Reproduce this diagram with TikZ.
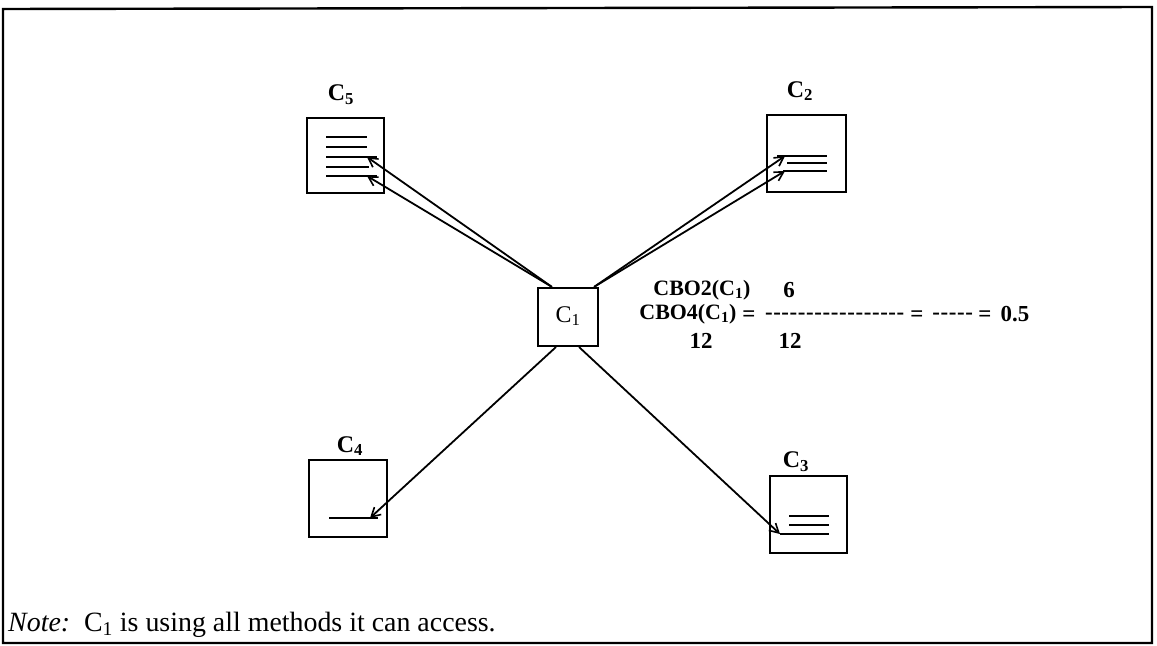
\documentclass[tikz,border=0pt]{standalone}
\usepackage{fontspec}
\setmainfont{Liberation Serif}
\usetikzlibrary{arrows.meta}
\newcommand\hy{-\kern0.6bp\relax}
\begin{document}
\begin{tikzpicture}[x=1bp,y=-1bp,
  box/.style={draw,line width=2.2bp,inner sep=0pt},
  lbl/.style={font=\fontsize{24}{26}\selectfont\bfseries,inner sep=0pt},
  inlbl/.style={font=\fontsize{24}{26}\selectfont,inner sep=0pt},
  ftxt/.style={font=\fontsize{22}{25}\selectfont\bfseries,inner sep=0pt},
  fbold/.style={font=\fontsize{23}{25}\selectfont\bfseries,inner sep=0pt},
  notetxt/.style={font=\fontsize{28}{30}\selectfont,inner sep=0pt},
  mline/.style={line width=2bp},
  conn/.style={line width=1.8bp,-{Straight Barb[length=9bp,width=10bp,line width=1.6bp]}},
  frame/.style={line width=2.4bp}]
\useasboundingbox (0,0) rectangle (1157,646);
\draw[frame] (3,643) -- (3,9) -- (1152,7) -- (1152,643) -- cycle;

% boxes
\node[box,minimum width=60bp,minimum height=58bp] (c1) at (568,317) {};
\node[inlbl] (c1t) at (568,316) {C\textsubscript{1}};
\node[box,minimum width=77bp,minimum height=75bp] (c5) at (345.5,155.5) {};
\node[box,minimum width=79bp,minimum height=77bp] (c2) at (806.5,153.5) {};
\node[box,minimum width=78bp,minimum height=77bp] (c4) at (348,498.5) {};
\node[box,minimum width=77bp,minimum height=77bp] (c3) at (808.5,514.5) {};

% labels
\node[lbl] (l5) at (341,95) {C\textsubscript{5}};
\node[lbl] (l2) at (800,91) {C\textsubscript{2}};
\node[lbl] (l4) at (350,446) {C\textsubscript{4}};
\node[lbl] (l3) at (796,462) {C\textsubscript{3}};

% method lines C5
\draw[mline] (326,137) -- (367,137);
\draw[mline] (326,147) -- (367,147);
\draw[mline] (326,157) -- (377,157);
\draw[mline] (326,167) -- (369,167);
\draw[mline] (326,176) -- (377,176);
% method lines C2
\draw[mline] (777,156) -- (827,156);
\draw[mline] (787,163) -- (827,163);
\draw[mline] (783,171) -- (827,171);
% method lines C3
\draw[mline] (789,516) -- (829,516);
\draw[mline] (789,525) -- (829,525);
\draw[mline] (780,534) -- (829,534);
% method line C4
\draw[mline] (329,518) -- (378,518);

% arrow tips
\coordinate (t5a) at (367,157);
\coordinate (t5b) at (367,176);
\coordinate (t2a) at (785,156);
\coordinate (t2b) at (785,171);
\coordinate (t4) at (370,518);
\coordinate (t3) at (780,534);

\draw[conn] ([xshift=15bp]c1.north west) -- (t5a);
\draw[conn] ([xshift=15bp]c1.north west) -- (t5b);
\draw[conn] ([xshift=-5bp]c1.north east) -- (t2a);
\draw[conn] ([xshift=-5bp]c1.north east) -- (t2b);
\draw[conn] ([xshift=19bp]c1.south west) -- (t4);
\draw[conn] ([xshift=-20bp]c1.south east) -- (t3);

% formula
\node[ftxt] (cbo4) at (688,314) {CBO4(C\textsubscript{1})};
\node[fbold] (eq1) at (749,316) {=};
\node[fbold] (d1) at (835,316) {\hy\hy\hy\hy\hy\hy\hy\hy\hy\hy\hy\hy\hy\hy\hy\hy\hy};
\node[fbold] (eq2) at (917,316) {=};
\node[fbold] (d2) at (953,316) {\hy\hy\hy\hy\hy};
\node[fbold] (eq3) at (985,316) {=};
\node[fbold] (half) at (1015,314) {0.5};
\node[ftxt] (cbo2) at (702,290) {CBO2(C\textsubscript{1})};
\node[fbold] (six) at (789,290) {6};
\node[fbold] (tw1) at (701,341) {12};
\node[fbold] (tw2) at (790,341) {12};

% note
\node[notetxt,anchor=base west] (note) at (8,631) {\textit{Note:}\ \ C\textsubscript{1} is using all methods it can access.};
\end{tikzpicture}
\end{document}
